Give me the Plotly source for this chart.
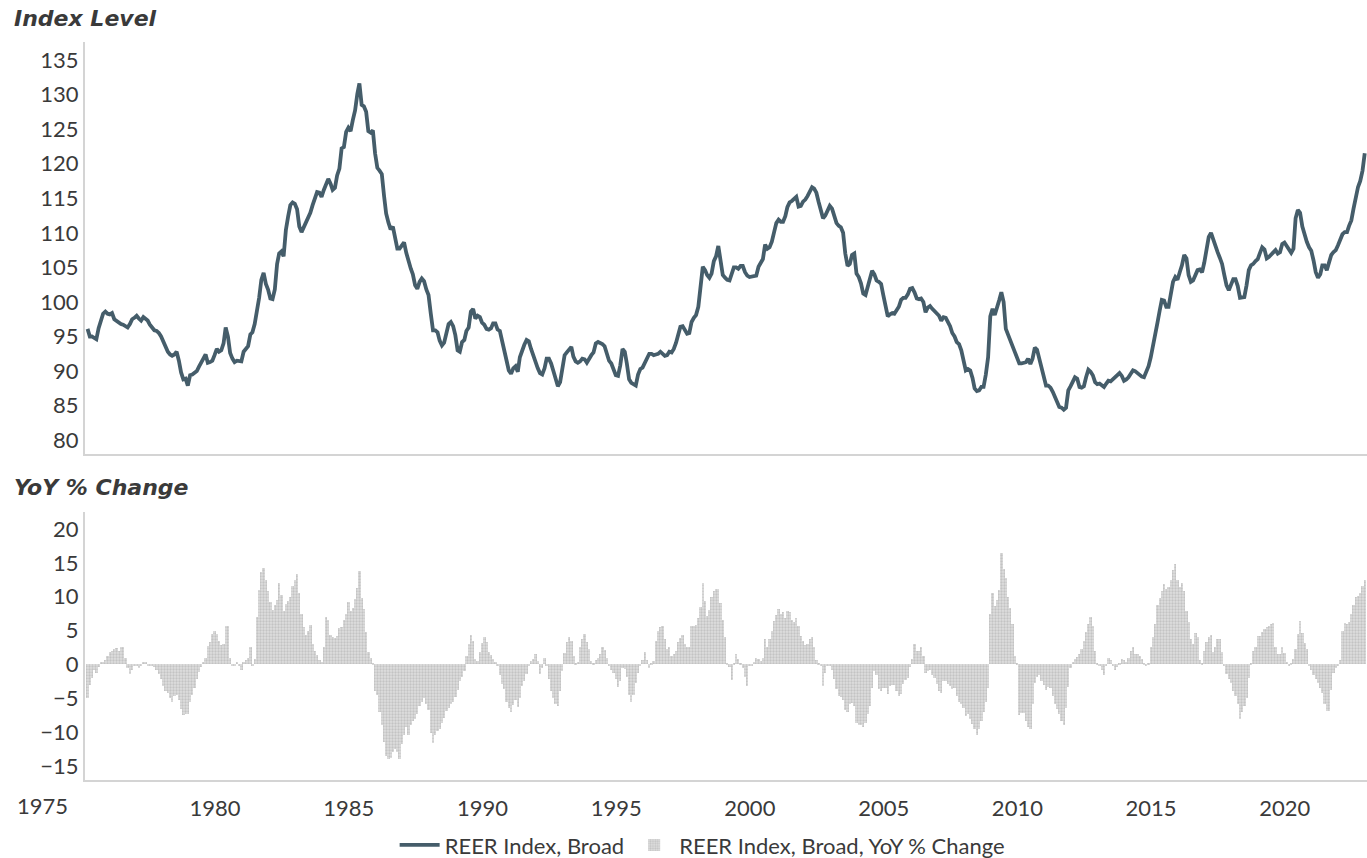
import pandas as pd
import plotly.graph_objects as go

# ---------------- data (monthly, Jan 1975 - Oct 2022) ----------------
start_month = "1975-01-01"

reer_index = [
    96.1, 95.0, 95.0, 94.8, 94.6, 96.2, 97.5, 98.3, 98.6, 98.3, 98.2, 98.4,  # 1975
    97.5, 97.2, 97.0, 96.8, 96.7, 96.5, 96.3, 96.8, 97.5, 97.7, 98.0, 97.6,  # 1976
    97.3, 97.8, 97.6, 97.3, 96.7, 96.2, 95.9, 95.8, 95.5, 95.0, 94.3, 93.4,  # 1977
    92.8, 92.4, 92.2, 92.4, 92.8, 91.5, 89.8, 88.8, 88.9, 87.9, 89.4, 89.5,  # 1978
    89.8, 90.0, 90.6, 91.1, 91.8, 92.4, 91.2, 91.3, 91.5, 92.3, 93.2, 92.8,  # 1979
    93.0, 94.0, 96.3, 95.0, 92.6, 91.8, 91.3, 91.5, 91.4, 91.4, 92.8, 93.3,  # 1980
    93.6, 95.3, 95.6, 96.8, 98.5, 100.6, 103.2, 104.2, 102.6, 101.8, 100.5, 100.4,  # 1981
    101.8, 105.5, 107.0, 107.3, 106.6, 110.4, 112.3, 114.0, 114.4, 114.2, 113.4, 110.9,  # 1982
    110.1, 110.8, 111.4, 112.4, 112.9, 114.0, 115.0, 115.9, 115.8, 115.2, 116.2, 117.1,  # 1983
    117.8, 117.1, 116.2, 116.5, 118.3, 119.3, 122.2, 122.4, 124.6, 125.2, 124.7, 126.3,  # 1984
    127.7, 130.1, 131.6, 128.5, 128.3, 127.5, 124.7, 124.5, 124.8, 121.5, 119.4, 119.0,  # 1985
    118.5, 115.3, 112.8, 111.5, 110.5, 110.9, 109.4, 107.7, 107.7, 108.1, 108.6, 107.1,  # 1986
    105.8, 104.8, 104.0, 102.4, 101.9, 102.9, 103.4, 103.0, 101.8, 101.0, 98.3, 95.9,  # 1987
    95.9, 95.6, 94.4, 93.7, 94.1, 95.5, 96.8, 97.1, 96.5, 95.2, 93.0, 92.8,  # 1988
    94.2, 94.5, 95.8, 96.3, 98.6, 99.0, 97.6, 98.0, 97.8, 97.0, 96.7, 96.1,  # 1989
    96.0, 96.2, 96.9, 96.9, 96.0, 95.8, 94.5, 92.8, 91.6, 90.1, 89.6, 90.4,  # 1990
    90.7, 89.9, 92.0, 93.1, 93.8, 94.5, 94.3, 93.2, 92.1, 91.3, 90.4, 89.7,  # 1991
    89.5, 90.4, 91.8, 91.8, 91.1, 90.0, 88.7, 87.8, 88.4, 90.4, 92.3, 92.7,  # 1992
    93.2, 93.5, 92.1, 91.4, 91.2, 91.4, 91.8, 91.7, 91.2, 91.8, 92.3, 92.7,  # 1993
    94.0, 94.2, 94.1, 93.9, 93.6, 92.7, 91.5, 91.1, 90.2, 89.4, 89.3, 90.8,  # 1994
    93.2, 92.8, 91.1, 88.8, 88.3, 88.1, 87.9, 89.5, 90.3, 90.5, 91.2, 92.0,  # 1995
    92.5, 92.5, 92.3, 92.4, 92.5, 92.8, 92.5, 92.2, 92.3, 92.8, 92.7, 93.2,  # 1996
    94.1, 95.5, 96.4, 96.5, 95.9, 95.4, 95.5, 97.1, 97.7, 98.1, 99.3, 102.2,  # 1997
    105.1, 104.6, 103.9, 103.5, 104.1, 105.9, 106.6, 108.1, 106.0, 103.9, 103.5, 103.2,  # 1998
    103.1, 104.1, 105.0, 105.0, 104.8, 105.2, 105.2, 104.3, 103.8, 103.6, 103.7, 103.7,  # 1999
    103.8, 105.1, 105.6, 106.2, 108.3, 107.7, 107.9, 108.7, 110.1, 111.4, 111.9, 111.6,  # 2000
    111.6, 112.4, 113.7, 114.4, 114.6, 115.0, 115.2, 113.8, 113.9, 114.5, 114.8, 115.3,  # 2001
    115.9, 116.6, 116.4, 115.8, 114.5, 113.3, 112.1, 112.5, 113.4, 113.9, 113.5, 112.5,  # 2002
    111.4, 111.0, 110.8, 110.0, 107.0, 105.2, 105.5, 106.8, 107.0, 104.1, 103.6, 102.7,  # 2003
    101.2, 101.0, 102.1, 102.9, 104.5, 104.0, 103.1, 102.9, 102.6, 101.0, 99.0, 97.9,  # 2004
    98.2, 98.4, 98.3, 98.7, 99.3, 100.3, 100.6, 100.6, 101.1, 101.9, 102.0, 101.4,  # 2005
    100.5, 100.4, 100.5, 100.0, 98.5, 99.2, 99.4, 99.0, 98.7, 98.4, 98.0, 97.3,  # 2006
    97.8, 97.7, 97.2, 96.5, 95.5, 95.0, 94.2, 93.9, 93.0, 91.2, 90.1, 90.3,  # 2007
    90.1, 89.0, 87.5, 87.1, 87.2, 87.7, 87.7, 89.5, 92.0, 97.9, 99.0, 98.1,  # 2008
    99.0, 100.3, 101.4, 100.0, 96.1, 95.3, 94.6, 93.7, 92.9, 91.9, 91.1, 91.1,  # 2009
    91.2, 91.3, 91.8, 91.0, 91.8, 93.4, 93.1, 91.7, 90.9, 89.1, 87.9, 87.9,  # 2010
    87.6, 87.0, 86.3, 85.2, 84.8, 84.7, 84.4, 84.7, 87.2, 87.8, 88.6, 89.1,  # 2011
    88.9, 87.7, 87.6, 87.8, 89.1, 90.2, 89.9, 89.4, 88.4, 88.1, 88.2, 87.9,  # 2012
    87.7, 88.2, 88.6, 88.5, 88.8, 89.1, 89.4, 89.7, 89.3, 88.6, 88.8, 89.1,  # 2013
    89.6, 90.1, 90.0, 89.7, 89.4, 89.2, 89.1, 89.9, 90.7, 92.0, 93.5, 95.3,  # 2014
    97.0, 98.8, 100.3, 100.2, 99.3, 99.3, 101.0, 102.9, 103.6, 103.2, 104.3, 105.3,  # 2015
    106.8, 106.3, 103.9, 102.9, 103.1, 103.9, 104.6, 104.7, 104.3, 105.7, 107.7, 109.4,  # 2016
    110.0, 108.9, 108.1, 107.2, 106.4, 105.5, 103.9, 102.4, 101.7, 102.7, 103.3, 103.3,  # 2017
    102.3, 100.6, 100.6, 100.7, 102.4, 104.6, 105.3, 105.5, 105.9, 106.2, 107.1, 107.9,  # 2018
    107.6, 106.3, 106.5, 106.8, 107.1, 107.5, 107.0, 107.2, 108.4, 108.6, 108.1, 107.6,  # 2019
    107.1, 107.7, 112.1, 113.3, 112.9, 110.9, 109.6, 108.7, 107.9, 107.4, 106.0, 104.3,  # 2020
    103.5, 104.0, 105.3, 105.3, 104.6, 105.6, 106.8, 107.2, 107.5, 108.2, 109.0, 109.8,  # 2021
    110.1, 110.1, 111.0, 111.8, 113.5, 115.4, 116.6, 117.5, 119.0, 121.5,  # 2022 (Jan-Oct)
]

reer_yoy = [
    -5.0, -3.0, -2.0, -0.8, -1.3, -0.4, 0.4, 0.3, 0.7, 1.2, 1.8, 2.0,  # 1975
    2.2, 2.4, 2.0, 2.5, 2.5, 1.0, -0.5, -1.4, -0.8, -0.1, -0.1, -0.6,  # 1976
    -0.3, 0.4, 0.3, -0.1, -0.1, -0.2, -0.4, -0.9, -1.4, -2.1, -3.2, -4.0,  # 1977
    -4.3, -5.0, -5.5, -4.6, -4.5, -5.3, -6.6, -7.5, -7.3, -7.3, -5.5, -4.5,  # 1978
    -3.5, -2.2, -1.1, -0.4, 0.3, 1.0, 2.7, 3.3, 4.5, 5.0, 4.5, 3.4,  # 1979
    2.8, 3.0, 5.7, 5.6, 1.0, -0.3, -0.1, 0.3, -0.2, -0.8, 0.3, 0.7,  # 1980
    1.0, 2.5, -0.2, 0.8, 7.0, 11.0, 13.6, 14.2, 12.5, 10.9, 9.2, 8.0,  # 1981
    8.8, 9.5, 12.0, 10.2, 7.9, 8.9, 9.3, 10.0, 11.5, 12.5, 13.3, 10.5,  # 1982
    7.5, 5.5, 4.3, 5.0, 5.8, 3.0, 2.0, 1.4, 0.7, 0.3, 2.5, 7.0,  # 1983
    6.5, 4.3, 4.0, 3.9, 4.2, 5.3, 5.5, 6.5, 7.4, 9.2, 7.9, 8.3,  # 1984
    9.7, 11.3, 13.8, 9.8, 8.2, 4.8, 1.8, 1.0, 0.2, -3.9, -4.5, -7.0,  # 1985
    -9.0, -11.5, -13.5, -14.0, -13.8, -13.0, -12.5, -13.0, -14.0, -11.8, -10.5, -9.2,  # 1986
    -10.5, -9.0, -8.4, -8.0, -7.3, -6.2, -5.5, -4.9, -5.8, -6.8, -10.2, -11.6,  # 1987
    -10.5, -9.8, -9.5, -8.7, -7.9, -6.9, -6.4, -5.8, -5.5, -4.8, -3.8, -2.4,  # 1988
    -1.9, -1.0, 1.2, 3.0, 4.3, 3.5, 0.8, 0.5, 1.9, 3.2, 4.1, 3.3,  # 1989
    1.9, 1.4, 0.8, 0.4, -0.2, -1.6, -2.9, -3.7, -5.6, -6.5, -7.0, -6.0,  # 1990
    -5.3, -6.3, -4.9, -3.2, -2.4, -1.4, -0.2, 0.5, 0.8, 1.5, 0.5, -1.4,  # 1991
    -0.6, 1.0, -0.2, -2.2, -4.0, -4.9, -5.8, -6.1, -4.0, -1.0, 1.7, 3.3,  # 1992
    4.0, 3.5, 1.2, 0.1, 0.3, 2.5, 3.7, 4.5, 3.3, 2.2, 0.5, 0.2,  # 1993
    0.6, 1.0, 1.5, 2.6, 2.1, 1.0, -0.2, -0.8, -1.3, -2.1, -3.3, -2.5,  # 1994
    -0.6, -0.7, -1.9, -4.5, -5.6, -4.5, -2.7, -1.3, -0.2, 0.7, 1.8, 0.6,  # 1995
    -0.5, 0.1, 0.5, 3.5, 5.0, 5.5, 5.7, 3.8, 2.2, 2.5, 1.3, 1.5,  # 1996
    2.0, 3.3, 3.9, 4.3, 3.0, 2.5, 2.6, 5.7, 5.7, 5.8, 6.9, 8.5,  # 1997
    12.0, 9.4, 7.2, 8.0, 9.9, 10.8, 11.2, 11.1, 9.0, 6.5, 4.0, 0.1,  # 1998
    -0.4, -2.3, 0.1, 1.5, 0.8, 0.1, -0.6, -1.9, -3.2, -0.3, -0.1, 0.3,  # 1999
    1.0, 0.8, 0.5, 1.0, 3.7, 2.6, 3.8, 5.0, 6.4, 7.3, 8.2, 7.5,  # 2000
    7.7, 6.9, 7.9, 7.8, 6.5, 6.3, 6.9, 5.6, 4.2, 3.4, 2.9, 3.0,  # 2001
    3.8, 4.1, 2.6, 0.6, 0.1, -0.3, -3.2, -1.3, -0.3, -0.3, -0.8, -2.2,  # 2002
    -3.7, -4.6, -4.8, -5.3, -6.8, -7.0, -5.9, -5.7, -6.1, -8.6, -8.9, -9.0,  # 2003
    -9.3, -8.6, -7.3, -6.1, -3.5, -1.0, -1.5, -3.6, -4.0, -3.5, -3.5, -4.4,  # 2004
    -3.2, -3.0, -3.1, -3.9, -4.6, -4.4, -2.9, -2.3, -2.0, -0.4, 0.8, 3.0,  # 2005
    2.0, 2.0, 2.6, 1.2, -1.2, -1.0, -0.8, -1.5, -2.0, -2.9, -3.9, -4.2,  # 2006
    -2.4, -2.5, -2.9, -3.2, -3.6, -3.5, -4.6, -5.5, -5.8, -6.5, -7.6, -7.4,  # 2007
    -8.1, -8.8, -9.6, -10.4, -9.6, -8.4, -7.1, -5.5, -3.5, 7.5, 10.5, 8.6,  # 2008
    9.5, 11.0, 16.5, 14.1, 12.8, 10.0, 8.3, 6.0, 1.2, 0.2, -7.5, -7.2,  # 2009
    -7.2, -8.3, -9.2, -9.5, -5.8, -2.8, -1.8, -1.6, -2.4, -3.1, -3.8, -3.4,  # 2010
    -3.5, -4.6, -5.9, -6.6, -7.4, -8.3, -9.0, -6.5, -3.4, -0.6, 0.4, 0.8,  # 2011
    1.1, 1.5, 2.3, 3.5, 4.8, 6.0, 7.0, 5.6, 2.0, 0.2, -0.1, -0.8,  # 2012
    -1.5, -0.3, 1.0, 0.6, -0.3, -0.9, -0.4, 0.2, 0.8, 0.6, 0.3, 0.9,  # 2013
    2.0, 2.6, 1.5, 1.5, 1.2, 0.8, 0.1, -0.3, 0.2, 2.5, 4.0, 6.0,  # 2014
    8.8, 9.8, 10.9, 11.9, 11.1, 11.4, 12.5, 14.0, 14.8, 12.5, 11.4, 12.0,  # 2015
    10.8, 7.9, 6.3, 3.7, 3.0, 4.6, 4.1, 0.6, 0.2, 2.0, 3.3, 4.1,  # 2016
    4.3, 1.8, 2.5, 3.8, 3.7, 1.9, -0.1, -1.4, -2.2, -2.8, -3.9, -4.7,  # 2017
    -5.8, -8.0, -7.1, -6.1, -4.9, -2.0, 0.2, 2.0, 2.6, 4.2, 4.2, 4.8,  # 2018
    5.2, 5.5, 5.7, 6.0, 6.1, 2.6, 1.5, 1.5, 2.5, 1.7, 0.3, -0.1,  # 2019
    0.1, 0.8, 2.2, 4.5, 6.4, 4.7, 3.1, 2.3, -0.1, -0.8, -1.5, -2.2,  # 2020
    -2.8, -3.5, -4.2, -5.8, -6.9, -6.9, -3.8, -1.3, -0.6, -0.1, 0.7, 5.0,  # 2021
    6.1, 6.0, 6.3, 7.5, 8.8, 10.0, 10.1, 10.6, 11.5, 12.4,  # 2022 (Jan-Oct)
]

tick_years = [1980, 1985, 1990, 1995, 2000, 2005, 2010, 2015, 2020]
index_ticks = [80, 85, 90, 95, 100, 105, 110, 115, 120, 125, 130, 135]
yoy_ticks = [-15, -10, -5, 0, 5, 10, 15, 20]

months = pd.date_range(start_month, periods=len(reer_index), freq="MS")

# ---------------- styling ----------------
LINE_COLOR = "#455d6a"
BAR_COLOR = "#cdcdcd"
TEXT_COLOR = "#3a3a3a"
AXIS_COLOR = "#d4d4d4"
FONT = "Lato"
TITLE_FONT = "DejaVu Sans"

fig = go.Figure()

fig.add_trace(go.Scatter(
    x=months, y=reer_index, mode="lines",
    line=dict(color=LINE_COLOR, width=3.8),
    name="REER Index, Broad", xaxis="x", yaxis="y",
))

fig.add_trace(go.Bar(
    x=months, y=reer_yoy,
    marker=dict(
        color=BAR_COLOR, line=dict(width=0),
        pattern=dict(shape=".", fgcolor="#a8a8a8", bgcolor="#dedede",
                     size=3, solidity=0.45),
    ),
    width=2.75e9,
    name="REER Index, Broad, YoY % Change", xaxis="x2", yaxis="y2",
))

x_range = ["1974-11-27", "2022-11-01"]
tickvals = [f"{y - 1}-10-06" for y in tick_years]

common_x = dict(
    type="date", range=x_range, showgrid=False, zeroline=False,
    showline=True, linecolor=AXIS_COLOR, linewidth=2,
)

fig.update_layout(
    width=1367, height=858,
    margin=dict(l=85, r=0, t=42, b=78),
    plot_bgcolor="white", paper_bgcolor="white",
    font=dict(family=FONT, size=22, color=TEXT_COLOR),
    bargap=0,
    showlegend=True,
    legend=dict(
        orientation="h", xref="container", yref="container",
        x=0.514, y=0.015, xanchor="center", yanchor="middle",
        font=dict(size=22, color=TEXT_COLOR), itemwidth=40,
        traceorder="normal",
    ),
    xaxis=dict(**common_x, anchor="y", showticklabels=False, ticks=""),
    xaxis2=dict(
        **common_x, anchor="y2", tickvals=tickvals,
        ticktext=[str(y) for y in tick_years],
        ticks="outside", ticklen=8, tickcolor="rgba(0,0,0,0)",
        tickfont=dict(size=22, color=TEXT_COLOR),
    ),
    yaxis=dict(
        domain=[0.4417, 1.0], range=[78, 137.6], tickvals=index_ticks,
        showgrid=False, zeroline=False, showline=True, linecolor=AXIS_COLOR,
        linewidth=2, ticks="", tickfont=dict(size=22, color=TEXT_COLOR),
    ),
    yaxis2=dict(
        domain=[0.0, 0.3631], range=[-17.07, 22.5], tickvals=yoy_ticks,
        showgrid=False, zeroline=False, showline=True, linecolor=AXIS_COLOR,
        linewidth=2, ticks="", tickfont=dict(size=22, color=TEXT_COLOR),
    ),
)

fig.add_annotation(
    text="<b><i>Index Level</i></b>", xref="paper", yref="paper",
    x=-0.0569, y=1.0325, xanchor="left", yanchor="middle", showarrow=False,
    font=dict(family=TITLE_FONT, size=22, color=TEXT_COLOR),
)
fig.add_annotation(
    text="<b><i>YoY % Change</i></b>", xref="paper", yref="paper",
    x=-0.0569, y=0.397, xanchor="left", yanchor="middle", showarrow=False,
    font=dict(family=TITLE_FONT, size=22, color=TEXT_COLOR),
)
fig.add_annotation(
    text="1975", xref="paper", yref="paper",
    x=-0.0328, y=-0.0339, xanchor="center", yanchor="middle", showarrow=False,
    font=dict(family=FONT, size=22, color=TEXT_COLOR),
)

# remove the page's default body margin so the figure fills the window exactly
fig.write_html(
    "out.html",
    config={"displayModeBar": False},
    post_script="document.body.style.margin='0';document.body.style.overflow='hidden';",
)
